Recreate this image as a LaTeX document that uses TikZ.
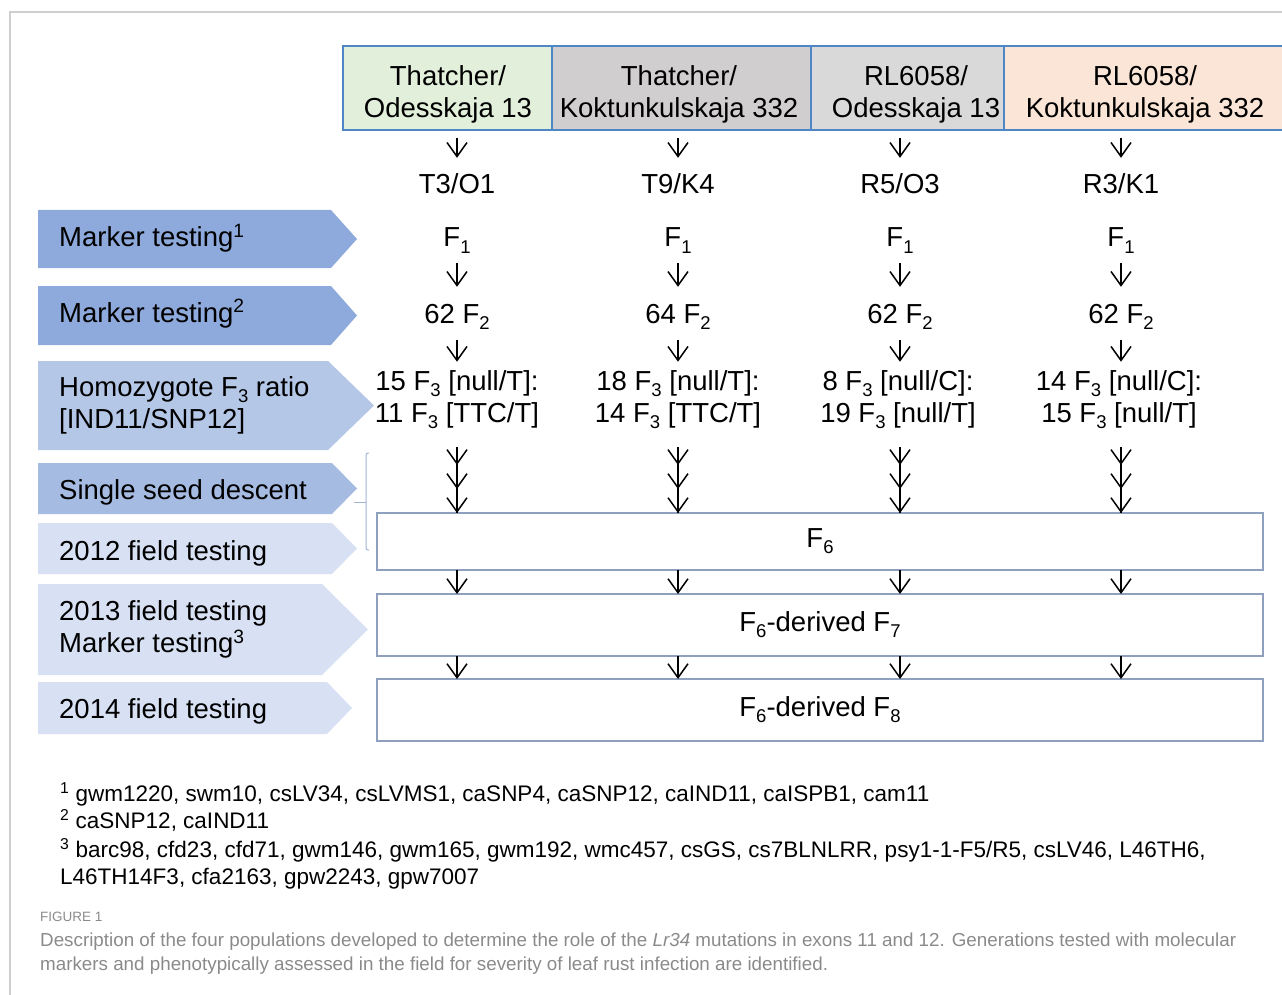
\documentclass[tikz,border=0pt]{standalone}
\usepackage{fontspec}
\setmainfont{Liberation Sans}
\usetikzlibrary{arrows.meta}
\definecolor{hdrblue}{HTML}{4E86C6}
\definecolor{hdrgreen}{HTML}{E2EFDA}
\definecolor{hdrgray}{HTML}{D0CECE}
\definecolor{hdrlight}{HTML}{D9D9D9}
\definecolor{hdrpeach}{HTML}{FBE5D6}
\definecolor{chevdark}{HTML}{8EA9DB}
\definecolor{chevmid}{HTML}{B4C7E7}
\definecolor{chevseed}{HTML}{A6BBE2}
\definecolor{chevlight}{HTML}{D8E1F3}
\definecolor{boxline}{HTML}{8FA0BE}
\definecolor{bracecol}{HTML}{A0B4D4}
\definecolor{framegray}{HTML}{CFCFCF}
\definecolor{capgray}{HTML}{8A8A8A}
\newcommand{\gsub}[1]{\raisebox{-6pt}{\fontsize{18.5}{18.5}\selectfont #1}}

\begin{document}
\begin{tikzpicture}[x=1pt,y=-1pt,
  txt/.style={inner sep=0pt, text height=20pt, text depth=6pt},
  two/.style={inner sep=0pt, align=center},
  hdr/.style={draw=hdrblue, line width=2.5pt, minimum height=84pt, inner sep=0pt, outer sep=0pt},
  gen/.style={draw=boxline, line width=2pt, minimum width=886pt, inner sep=0pt, outer sep=0pt},
  arr/.style={line width=1.5pt, -{Straight Barb[length=14pt,width=20pt]}},
  arr3/.style={line width=1.5pt, -{Straight Barb[length=14pt,width=20pt,sep=8pt] Straight Barb[length=14pt,width=20pt,sep=8pt] Straight Barb[length=14pt,width=20pt]}},
  stem/.style={line width=1.5pt}]
\useasboundingbox (0,0) rectangle (1282,995);
\fontsize{27.5}{32}\selectfont
\draw[framegray, line width=1.2pt] (10,995) -- (10,12) -- (1282,12);

% crosses
\node[hdr, fill=hdrgreen, minimum width=209pt] (h1) at (447.5,88) {};
\node[hdr, fill=hdrgray, minimum width=259pt] (h2) at (681.5,88) {};
\node[hdr, fill=hdrlight, minimum width=193pt] (h3) at (907.5,88) {};
\node[hdr, fill=hdrpeach, minimum width=281pt] (h4) at (1144.5,88) {};
\node[two] (t1) at (448,94) {Thatcher/\\Odesskaja 13};
\node[two] (t2) at (679,94) {Thatcher/\\Koktunkulskaja 332};
\node[two] (t3) at (916,94) {RL6058/\\Odesskaja 13};
\node[two] (t4) at (1145,94) {RL6058/\\Koktunkulskaja 332};

% populations
\node[txt] (p1) at (457,187) {T3/O1};
\node[txt] (p2) at (678,187) {T9/K4};
\node[txt] (p3) at (900,187) {R5/O3};
\node[txt] (p4) at (1121,187) {R3/K1};
\node[txt] (a1) at (457,240) {F\gsub{1}};
\node[txt] (a2) at (678,240) {F\gsub{1}};
\node[txt] (a3) at (900,240) {F\gsub{1}};
\node[txt] (a4) at (1121,240) {F\gsub{1}};
\node[txt] (b1) at (457,316) {62 F\gsub{2}};
\node[txt] (b2) at (678,316) {64 F\gsub{2}};
\node[txt] (b3) at (900,316) {62 F\gsub{2}};
\node[txt] (b4) at (1121,316) {62 F\gsub{2}};
\node[two] (c1) at (457,400) {15 F\gsub{3} [null/T]:\\11 F\gsub{3} [TTC/T]};
\node[two] (c2) at (678,400) {18 F\gsub{3} [null/T]:\\14 F\gsub{3} [TTC/T]};
\node[two] (c3) at (898,400) {8 F\gsub{3} [null/C]:\\19 F\gsub{3} [null/T]};
\node[two] (c4) at (1119,400) {14 F\gsub{3} [null/C]:\\15 F\gsub{3} [null/T]};

% generations
\node[gen, minimum height=57pt] (g6) at (820,541.5) {F\gsub{6}};
\node[gen, minimum height=62pt] (g7) at (820,625) {F\gsub{6}-derived F\gsub{7}};
\node[gen, minimum height=62pt] (g8) at (820,710) {F\gsub{6}-derived F\gsub{8}};

\foreach \i in {1,2,3,4} {
  \draw[arr, shorten <=8pt, shorten >=16pt] (h\i.south -| p\i) -- (p\i.north);
  \draw[arr, shorten <=10pt, shorten >=16pt] (a\i.south) -- (b\i.north);
  \draw[arr, shorten <=11pt, shorten >=9pt] (b\i.south) -- (b\i.south |- c\i.north);
  \draw[stem, shorten <=18pt] (b\i.south |- c\i.south) -- (g6.north -| b\i);
  \draw[arr3, shorten <=18pt] (b\i.south |- c\i.south) -- (g6.north -| b\i);
  \draw[arr] (g6.south -| b\i) -- (g7.north -| b\i);
  \draw[arr] (g7.south -| b\i) -- (g8.north -| b\i);
}

% stages
\fill[chevdark] (38,210) -- (331,210) -- (357,239) -- (331,268) -- (38,268) -- cycle;
\fill[chevdark] (38,286) -- (331,286) -- (357,315.5) -- (331,345) -- (38,345) -- cycle;
\fill[chevmid] (38,361) -- (328,361) -- (374,405.5) -- (328,450) -- (38,450) -- cycle;
\fill[chevseed] (38,463) -- (332,463) -- (357,488.5) -- (332,514) -- (38,514) -- cycle;
\fill[chevlight] (38,523) -- (332,523) -- (357,548.5) -- (332,574) -- (38,574) -- cycle;
\fill[chevlight] (38,584) -- (322,584) -- (368,629.5) -- (322,675) -- (38,675) -- cycle;
\fill[chevlight] (38,682) -- (327,682) -- (352,708) -- (327,734) -- (38,734) -- cycle;
\node[txt, anchor=base west] (s1) at (59,247) {Marker testing\textsuperscript{1}};
\node[txt, anchor=base west] (s2) at (59,322) {Marker testing\textsuperscript{2}};
\node[inner sep=0pt, align=left, anchor=west] (s3) at (59,405) {Homozygote F\gsub{3} ratio\\{}[IND11/SNP12]};
\node[txt, anchor=base west] (s4) at (59,499) {Single seed descent};
\node[txt, anchor=base west] (s5) at (59,560) {2012 field testing};
\node[inner sep=0pt, align=left, anchor=west] (s6) at (59,629) {2013 field testing\\Marker testing\textsuperscript{3}};
\node[txt, anchor=base west] (s7) at (59,718) {2014 field testing};
\draw[bracecol, line width=1pt, rounded corners=2pt] (369,453) -- (366,453) -- (366,550) -- (369,550);
\draw[bracecol, line width=1pt] (366,502) -- (354,502);

% footnotes
\begin{scope}[font=\fontsize{22.5}{26}\selectfont]
\node[inner sep=0pt, anchor=base west] (n1) at (60,801) {\textsuperscript{1} gwm1220, swm10, csLV34, csLVMS1, caSNP4, caSNP12, caIND11, caISPB1, cam11};
\node[inner sep=0pt, anchor=base west] (n2) at (60,828) {\textsuperscript{2} caSNP12, caIND11};
\node[inner sep=0pt, anchor=base west] (n3) at (60,857) {\textsuperscript{3} barc98, cfd23, cfd71, gwm146, gwm165, gwm192, wmc457, csGS, cs7BLNLRR, psy1-1-F5/R5, csLV46, L46TH6,};
\node[inner sep=0pt, anchor=base west] (n4) at (60,884) {L46TH14F3, cfa2163, gpw2243, gpw7007};
\end{scope}
\node[inner sep=0pt, anchor=base west, capgray, font=\fontsize{13.5}{16}\selectfont] (fig) at (40,921) {FIGURE 1};
\node[inner sep=0pt, anchor=base west, capgray, align=left, font=\fontsize{18.8}{24}\selectfont] (cap) at (40,970) {Description of the four populations developed to determine the role of the \textit{Lr34} mutations in exons 11 and 12. Generations tested with molecular\\markers and phenotypically assessed in the field for severity of leaf rust infection are identified.};
\end{tikzpicture}
\end{document}
